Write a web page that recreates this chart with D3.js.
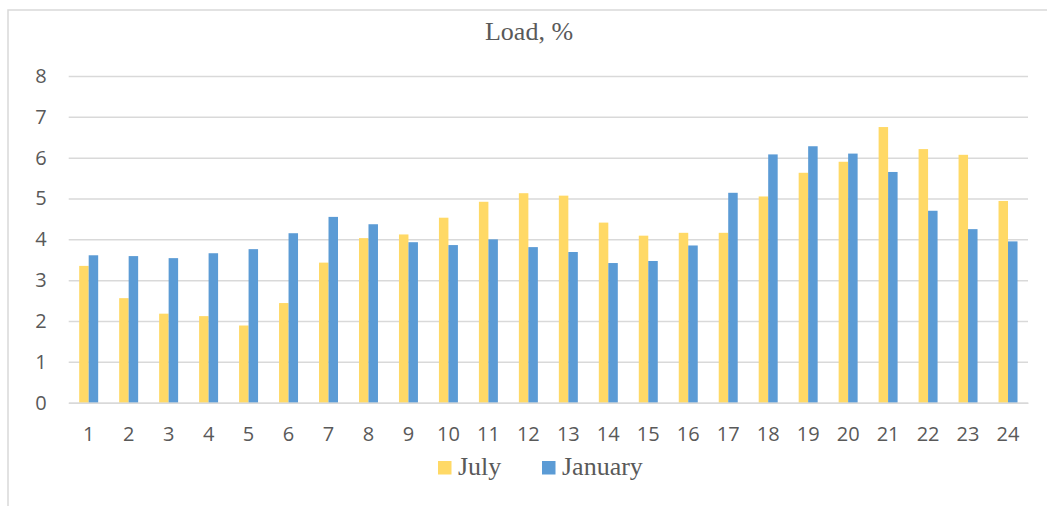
<!DOCTYPE html>
<html>
<head>
<meta charset="utf-8">
<script src="https://cdn.jsdelivr.net/npm/d3@7"></script>
<style>
  html, body { margin: 0; padding: 0; background: #ffffff; }
  svg { display: block; }
</style>
</head>
<body>
<svg id="chart" width="1047" height="506"></svg>
<script>
// Hourly load profile, share of daily load (%)
const hours = ["1","2","3","4","5","6","7","8","9","10","11","12","13","14","15","16","17","18","19","20","21","22","23","24"];
const july = [3.35, 2.56, 2.18, 2.12, 1.89, 2.44, 3.43, 4.03, 4.12, 4.53, 4.92, 5.13,
              5.07, 4.41, 4.09, 4.16, 4.16, 5.05, 5.63, 5.90, 6.75, 6.21, 6.07, 4.94];
const january = [3.61, 3.59, 3.54, 3.66, 3.76, 4.15, 4.55, 4.37, 3.93, 3.86, 4.00, 3.81,
                 3.69, 3.42, 3.47, 3.85, 5.14, 6.08, 6.28, 6.10, 5.65, 4.70, 4.25, 3.95];
const seriesNames = ["July", "January"];
const seriesColors = ["#FFD966", "#5B9BD5"];
const yTicks = [0, 1, 2, 3, 4, 5, 6, 7, 8];
const title = "Load, %";

const svg = d3.select("#chart");
const W = 1047, H = 506;
const plot = { left: 68.7, right: 1028, top: 76, bottom: 402.7 };

// chart frame (left and top edges)
svg.append("path")
  .attr("d", `M8,${H} L8,10 L${W},10`)
  .attr("fill", "none")
  .attr("stroke", "#d9d9d9")
  .attr("stroke-width", 1.5);

const x0 = d3.scaleBand()
  .domain(hours)
  .range([plot.left, plot.right])
  .paddingInner(0.525)
  .paddingOuter(0.2625);

const x1 = d3.scaleBand()
  .domain(seriesNames)
  .range([0, x0.bandwidth()]);

const y = d3.scaleLinear()
  .domain([0, 8])
  .range([plot.bottom, plot.top]);

const color = d3.scaleOrdinal().domain(seriesNames).range(seriesColors);

// horizontal gridlines with value labels
const yAxis = d3.axisLeft(y)
  .tickValues(yTicks)
  .tickSize(-(plot.right - plot.left))
  .tickPadding(22)
  .tickFormat(d3.format("d"));

const gy = svg.append("g")
  .attr("transform", `translate(${plot.left},0)`)
  .call(yAxis);
gy.select(".domain").remove();
gy.selectAll(".tick line")
  .attr("stroke", "#d9d9d9")
  .attr("stroke-width", 1.5);
gy.selectAll(".tick text")
  .attr("fill", "#595959")
  .style("font-family", "'Open Sans', sans-serif")
  .style("font-size", "20px");

// bars
const rows = hours.map((h, i) => ({ hour: h, values: [july[i], january[i]] }));
const groups = svg.append("g")
  .selectAll("g")
  .data(rows)
  .join("g")
  .attr("transform", d => `translate(${x0(d.hour)},0)`);

groups.selectAll("rect")
  .data(d => seriesNames.map((s, k) => ({ series: s, value: d.values[k] })))
  .join("rect")
  .attr("x", d => x1(d.series))
  .attr("y", d => y(d.value))
  .attr("width", x1.bandwidth())
  .attr("height", d => y(0) - y(d.value))
  .attr("fill", d => color(d.series));

// category axis
const xAxis = d3.axisBottom(x0).tickSize(0).tickPadding(24);
const gx = svg.append("g")
  .attr("transform", `translate(0,${plot.bottom})`)
  .call(xAxis);
gx.select(".domain")
  .attr("stroke", "#d9d9d9")
  .attr("stroke-width", 1.5);
gx.selectAll(".tick text")
  .attr("fill", "#595959")
  .style("font-family", "'Open Sans', sans-serif")
  .style("font-size", "20px");

// title
svg.append("text")
  .attr("x", 529)
  .attr("y", 40)
  .attr("text-anchor", "middle")
  .attr("fill", "#595959")
  .style("font-family", "'Liberation Serif', 'Times New Roman', serif")
  .style("font-size", "26px")
  .text(title);

// legend
const legendX = [438, 542];
const legend = svg.append("g")
  .selectAll("g")
  .data(seriesNames)
  .join("g")
  .attr("transform", (d, i) => `translate(${legendX[i]},461)`);
legend.append("rect")
  .attr("width", 13.5)
  .attr("height", 13.5)
  .attr("fill", d => color(d));
legend.append("text")
  .attr("x", 20)
  .attr("y", 14)
  .attr("fill", "#595959")
  .style("font-family", "'Liberation Serif', 'Times New Roman', serif")
  .style("font-size", "26px")
  .text(d => d);
</script>
</body>
</html>
